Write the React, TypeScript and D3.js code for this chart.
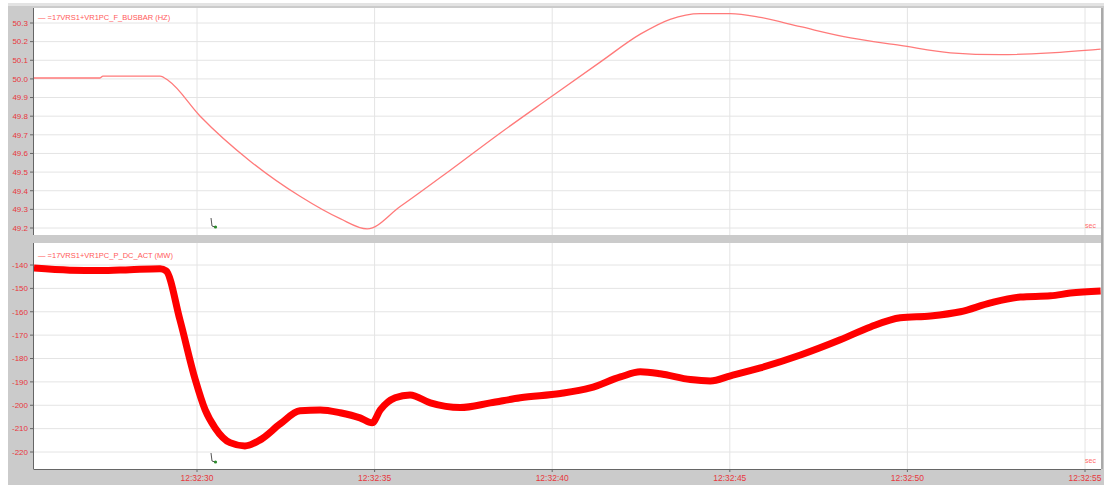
import React from "react";
import * as d3 from "d3";

// Time in seconds after 12:32:00
const freqTime = [25.41, 27.27, 27.35, 28.96, 29.2, 30.09, 31.49, 32.9, 34.03, 34.79, 35.72, 37.13, 38.54, 39.94, 41.35, 42.48, 43.32, 44.17, 45.02, 45.86, 46.99, 48.4, 49.8, 51.21, 52.62, 54.03, 55.44];
const freqValue = [50.005, 50.005, 50.015, 50.015, 49.99, 49.8, 49.56, 49.37, 49.25, 49.195, 49.315, 49.51, 49.71, 49.9, 50.09, 50.24, 50.32, 50.35, 50.35, 50.33, 50.28, 50.22, 50.18, 50.14, 50.13, 50.14, 50.16];

const powerTime = [25.41, 26.42, 27.27, 28.11, 28.96, 29.13, 29.52, 29.95, 30.23, 30.51, 30.93, 31.35, 31.78, 32.34, 32.9, 33.47, 34.03, 34.59, 34.93, 35.16, 35.58, 36.0, 36.57, 37.41, 38.26, 39.1, 40.23, 41.07, 41.92, 42.48, 43.04, 43.89, 44.45, 45.02, 45.86, 46.99, 48.11, 48.96, 49.8, 50.65, 51.49, 52.34, 53.18, 54.03, 54.59, 55.44];
const powerValue = [-141.3, -142.2, -142.4, -142.0, -141.6, -142.5, -163.5, -189, -202, -209.7, -216, -217.4, -214.8, -208, -202.4, -202, -203.2, -205.4, -207.5, -202, -196.8, -195.6, -199, -201, -199, -196.8, -195, -192.6, -187.9, -185.7, -186.5, -189, -189.6, -187.4, -184, -178.5, -172, -166.5, -162.6, -161.8, -160, -156.2, -153.7, -153.2, -152, -151.1];

const xTicks = [30, 35, 40, 45, 50, 55];
const freqTicks = [49.2, 49.3, 49.4, 49.5, 49.6, 49.7, 49.8, 49.9, 50.0, 50.1, 50.2, 50.3];
const powerTicks = [-220, -210, -200, -190, -180, -170, -160, -150, -140];

const freqLabel = "— =17VRS1+VR1PC_F_BUSBAR (HZ)";
const powerLabel = "— =17VRS1+VR1PC_P_DC_ACT (MW)";
const unitLabel = "sec";

const W = 1105;
const H = 487;
const plotL = 34;
const plotR = 1101;
const top1 = 8, bot1 = 235;
const top2 = 243, bot2 = 469;

const red = "#e8383d";
const grid = "#e4e4e4";

export default function App() {
  const x = d3.scaleLinear().domain([30, 55]).range([197, 1085]);
  const yF = d3.scaleLinear().domain([49.2, 50.3]).range([228, 23]);
  const yP = d3.scaleLinear().domain([-220, -140]).range([452, 265]);

  const lineF = d3
    .line<number>()
    .x((_, i) => x(freqTime[i]))
    .y((d) => yF(d))
    .curve(d3.curveMonotoneX);
  const lineP = d3
    .line<number>()
    .x((_, i) => x(powerTime[i]))
    .y((d) => yP(d))
    .curve(d3.curveMonotoneX);

  const fmtTime = (t: number) => `12:32:${String(t).padStart(2, "0")}`;

  const panel = (
    top: number,
    bot: number,
    ticks: number[],
    y: d3.ScaleLinear<number, number>,
    fmt: (v: number) => string,
    clipId: string
  ) => (
    <g>
      <rect x={plotL} y={top} width={plotR - plotL} height={bot - top} fill="#fff" />
      <clipPath id={clipId}>
        <rect x={plotL} y={top} width={plotR - plotL} height={bot - top} />
      </clipPath>
      {ticks.map((t) => (
        <line key={"h" + t} x1={plotL} x2={plotR} y1={y(t)} y2={y(t)} stroke={grid} strokeWidth={1} />
      ))}
      {xTicks.map((t) => (
        <line key={"v" + t} x1={x(t)} x2={x(t)} y1={top} y2={bot} stroke={grid} strokeWidth={1} />
      ))}
      <line x1={plotL - 0.5} x2={plotL - 0.5} y1={top} y2={bot} stroke="#666" strokeWidth={1} />
      {ticks.map((t) => (
        <g key={"t" + t}>
          <line x1={plotL - 4} x2={plotL} y1={y(t)} y2={y(t)} stroke="#666" strokeWidth={1} />
          <text
            x={plotL - 6}
            y={y(t)}
            dy="0.35em"
            textAnchor="end"
            fontSize={8}
            fontFamily="Arial, 'Liberation Sans', sans-serif"
            fill={red}
          >
            {fmt(t)}
          </text>
        </g>
      ))}
    </g>
  );

  return (
    <div style={{ position: "absolute", left: 0, top: 0 }}>
      <svg width={W} height={H} style={{ display: "block" }}>
        <rect x={0} y={0} width={W} height={H} fill="#fff" />
        <rect x={8} y={3} width={1096} height={482} fill="#e3e3e3" />
        <rect x={8} y={6} width={1096} height={479} fill="#cbcbcb" />
        {panel(top1, bot1, freqTicks, yF, (v) => v.toFixed(1), "c1")}
        {panel(top2, bot2, powerTicks, yP, (v) => String(v), "c2")}

        <path d={lineF(freqValue) || ""} fill="none" stroke="#ff7a7a" strokeWidth={1.3} clipPath="url(#c1)" />
        <path
          d={lineP(powerValue) || ""}
          fill="none"
          stroke="#ff0000"
          strokeWidth={7}
          strokeLinejoin="round"
          clipPath="url(#c2)"
        />

        <text x={38} y={20} fontSize={7.5} fontFamily="Arial, 'Liberation Sans', sans-serif" fill="#ff5a5a">
          {freqLabel}
        </text>
        <text x={38} y={258} fontSize={7.5} fontFamily="Arial, 'Liberation Sans', sans-serif" fill="#ff5a5a">
          {powerLabel}
        </text>

        <text x={1096} y={228} textAnchor="end" fontSize={7} fontFamily="Arial, 'Liberation Sans', sans-serif" fill="#ff6a6a">
          {unitLabel}
        </text>
        <text x={1096} y={463} textAnchor="end" fontSize={7} fontFamily="Arial, 'Liberation Sans', sans-serif" fill="#ff6a6a">
          {unitLabel}
        </text>

        {[227, 462].map((cy) => (
          <g key={cy}>
            <path d={`M${211},${cy - 9} L${212},${cy - 1} L${215},${cy}`} fill="none" stroke="#555" strokeWidth={1} />
            <circle cx={215.5} cy={cy} r={1.6} fill="#2a8a2a" />
          </g>
        ))}

        <line x1={plotL - 0.5} x2={plotR} y1={bot2 + 0.5} y2={bot2 + 0.5} stroke="#666" strokeWidth={1} />
        <line x1={plotR + 1} x2={plotR + 1} y1={top1} y2={bot2} stroke="#888" strokeWidth={1} />
        {xTicks.map((t) => (
          <g key={"xt" + t}>
            <line x1={x(t)} x2={x(t)} y1={bot2} y2={bot2 + 3} stroke="#666" />
            <text
              x={x(t)}
              y={481}
              textAnchor="middle"
              fontSize={8.5}
              fontFamily="Arial, 'Liberation Sans', sans-serif"
              fill={red}
            >
              {fmtTime(t)}
            </text>
          </g>
        ))}
      </svg>
    </div>
  );
}
